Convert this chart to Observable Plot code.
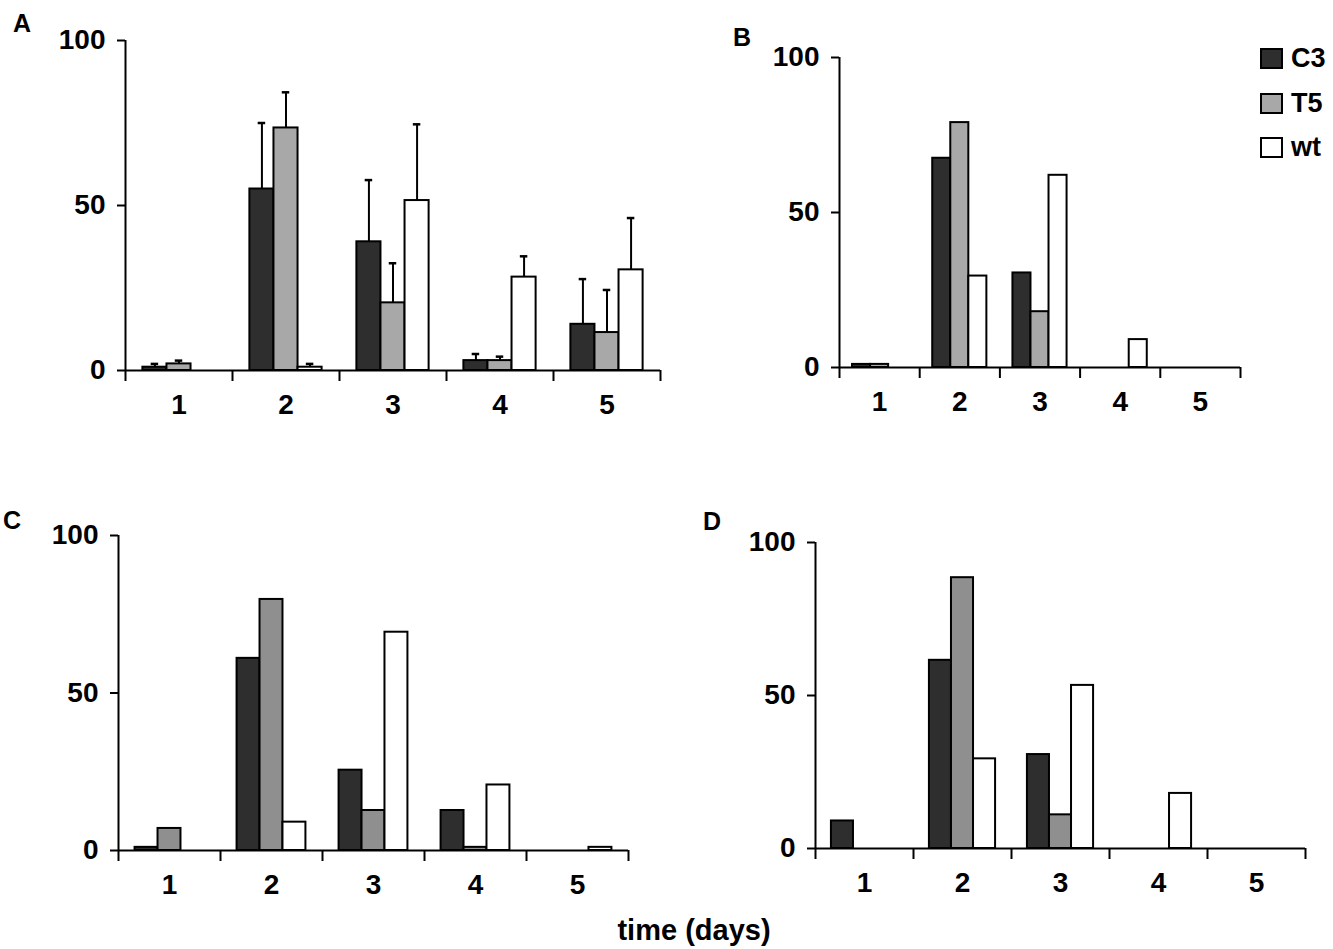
<!DOCTYPE html>
<html>
<head>
<meta charset="utf-8">
<script src="https://cdn.jsdelivr.net/npm/d3@7"></script>
<script src="https://cdn.jsdelivr.net/npm/@observablehq/plot@0.6"></script>
<style>
  body { margin: 0; background: #fff; font-family: "Liberation Sans", Arial, sans-serif; font-weight: bold; color: #000; }
  #fig { position: relative; width: 1333px; height: 949px; }
  .panel { position: absolute; }
  .letter { position: absolute; font-size: 25px; line-height: 1; }
  .key { position: absolute; display: flex; align-items: center; height: 30px; font-size: 27px; }
  .key span.sw { display: inline-block; width: 19px; height: 17px; border: 2px solid #000; margin-right: 8px; }
  #xtitle { position: absolute; font-size: 29px; line-height: 1; transform: translateX(-50%); white-space: nowrap; }
</style>
</head>
<body>
<div id="fig"></div>
<script>
// values (percent per day)
const days = [1, 2, 3, 4, 5];
const series = ["C3", "T5", "wt"];

// panel A means and upper error bars
const A_C3 = [1, 55, 39, 3, 14];
const A_T5 = [2, 73.5, 20.5, 3, 11.5];
const A_wt = [0, 1, 51.5, 28.3, 30.5];
const A_C3_err = [1, 20, 18.7, 2, 13.7];
const A_T5_err = [1, 10.8, 12, 1.2, 12.9];
const A_wt_err = [0, 1, 23.1, 6.3, 15.7];

// panel B
const B_C3 = [1, 67.5, 30.5, 0, 0];
const B_T5 = [1, 79, 18, 0, 0];
const B_wt = [0, 29.5, 62, 9, 0];

// panel C
const C_C3 = [1, 61, 25.5, 12.7, 0];
const C_T5 = [7, 79.7, 12.7, 1, 0];
const C_wt = [0, 9, 69.3, 20.8, 1];

// panel D
const D_C3 = [9, 61.5, 30.7, 0, 0];
const D_T5 = [0, 88.5, 11, 0, 0];
const D_wt = [0, 29.3, 53.3, 18, 0];

const yTicks = [0, 50, 100];
const bounds = [0.5, 1.5, 2.5, 3.5, 4.5, 5.5];

const fillsAB = ["#2e2e2e", "#a8a8a8", "#ffffff"];
const fillsCD = ["#2e2e2e", "#8f8f8f", "#ffffff"];

const W = 0.225; // bar width in day units
const center = r => r.day + (r.i - 1) * W;

const fig = document.getElementById("fig");

function panel(values, errors, fills, box) {
  const rows = series.flatMap((s, i) => days.map((d, j) => ({
    day: d, series: s, i, value: values[i][j], err: errors ? errors[i][j] : 0
  }))).filter(r => r.value > 0);
  const errRows = rows.filter(r => r.err > 0);

  const chart = Plot.plot({
    width: box.width,
    height: box.height,
    marginLeft: box.ml,
    marginRight: box.mr,
    marginTop: box.mt,
    marginBottom: box.mb,
    x: {domain: [0.5, 5.5]},
    y: {domain: [0, 100]},
    style: {fontFamily: "Liberation Sans, Arial, sans-serif", fontWeight: "bold", color: "#000", background: "transparent", overflow: "visible"},
    marks: [
      Plot.ruleX(errRows, {x: center, y1: "value", y2: r => r.value + r.err, strokeWidth: 2}),
      Plot.ruleY(errRows, {y: r => r.value + r.err, x1: r => center(r) - 0.035, x2: r => center(r) + 0.035, strokeWidth: 2.5}),
      ...series.map((s, i) => Plot.rect(rows.filter(r => r.series === s), {
        x1: r => center(r) - W / 2,
        x2: r => center(r) + W / 2,
        y1: 0,
        y2: "value",
        fill: fills[i],
        stroke: "#000",
        strokeWidth: 2
      })),
      Plot.ruleY([0], {strokeWidth: 2}),
      Plot.ruleX([0.5], {strokeWidth: 2}),
      Plot.axisY(yTicks, {tickSize: 8, tickPadding: 12, strokeWidth: 2, fontSize: 28, fontWeight: "bold", label: null}),
      Plot.axisX(bounds, {tickSize: 11, strokeWidth: 2, tickFormat: () => "", label: null}),
      Plot.axisX(days, {tickSize: 0, tickPadding: 24, fontSize: 28, fontWeight: "bold", label: null})
    ]
  });
  chart.classList.add("panel");
  chart.style.left = box.left + "px";
  chart.style.top = box.top + "px";
  fig.append(chart);
}

panel([A_C3, A_T5, A_wt], [A_C3_err, A_T5_err, A_wt_err], fillsAB,
  {left: 0, top: 0, width: 700, height: 440, ml: 125, mr: 40, mt: 40, mb: 70});
panel([B_C3, B_T5, B_wt], null, fillsAB,
  {left: 700, top: 0, width: 560, height: 440, ml: 139, mr: 20, mt: 57, mb: 73});
panel([C_C3, C_T5, C_wt], null, fillsCD,
  {left: 0, top: 470, width: 700, height: 440, ml: 118, mr: 72, mt: 65, mb: 60});
panel([D_C3, D_T5, D_wt], null, fillsCD,
  {left: 700, top: 470, width: 633, height: 440, ml: 115, mr: 28, mt: 72, mb: 62});

// panel letters
const letters = ["A", "B", "C", "D"];
const letterPos = [[13, 11], [733, 25], [3, 508], [703, 509]];
letters.forEach((t, k) => {
  const el = document.createElement("div");
  el.className = "letter";
  el.textContent = t;
  el.style.left = letterPos[k][0] + "px";
  el.style.top = letterPos[k][1] + "px";
  fig.append(el);
});

// legend
const legendY = [58, 103, 147];
series.forEach((s, i) => {
  const el = document.createElement("div");
  el.className = "key";
  el.style.left = "1260px";
  el.style.top = (legendY[i] - 15) + "px";
  const sw = document.createElement("span");
  sw.className = "sw";
  sw.style.background = fillsAB[i];
  el.append(sw, document.createTextNode(s));
  fig.append(el);
});

const xt = document.createElement("div");
xt.id = "xtitle";
xt.textContent = "time (days)";
xt.style.left = "694px";
xt.style.top = "916px";
fig.append(xt);
</script>
</body>
</html>
